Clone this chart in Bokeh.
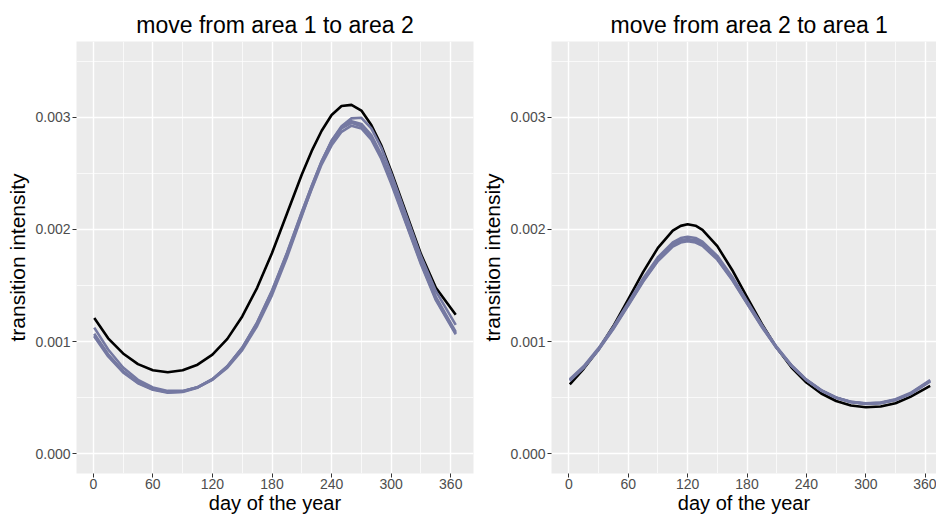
from bokeh.plotting import figure
from bokeh.layouts import row
from bokeh.models import FixedTicker, PrintfTickFormatter, Range1d
from bokeh.embed import file_html
from bokeh.resources import INLINE

# ---------------- data (values in units of 1e-3) ----------------
# panel 1: move from area 1 to area 2
days_12 = [1, 15, 30, 45, 60, 75, 90, 105, 120, 135, 150, 165, 180,
           195, 210, 220, 230, 240, 250, 260, 270, 280, 290, 300, 315, 330, 345, 365]
a12_black = [1.21, 1.03, 0.895, 0.80, 0.745, 0.727, 0.745, 0.795, 0.885, 1.025, 1.225, 1.48, 1.79,
             2.14, 2.49, 2.70, 2.88, 3.02, 3.10, 3.11, 3.06, 2.93, 2.75, 2.52, 2.15, 1.78, 1.48, 1.24]
a12_sim_a = [1.125, 0.93, 0.77, 0.66, 0.592, 0.561, 0.561, 0.593, 0.66, 0.768, 0.925, 1.14, 1.415,
             1.75, 2.12, 2.37, 2.60, 2.79, 2.92, 2.99, 2.995, 2.90, 2.73, 2.50, 2.13, 1.76, 1.45, 1.15]
a12_sim_b = [1.07, 0.887, 0.739, 0.638, 0.578, 0.552, 0.557, 0.594, 0.666, 0.78, 0.945, 1.168, 1.45,
             1.785, 2.15, 2.39, 2.61, 2.79, 2.91, 2.965, 2.94, 2.84, 2.67, 2.45, 2.08, 1.72, 1.40, 1.087]
a12_sim_c = [1.045, 0.868, 0.726, 0.629, 0.571, 0.546, 0.552, 0.59, 0.663, 0.777, 0.94, 1.16, 1.44,
             1.77, 2.13, 2.36, 2.58, 2.75, 2.87, 2.925, 2.90, 2.80, 2.63, 2.41, 2.05, 1.69, 1.37, 1.065]
a12_sim_d = [1.058, 0.878, 0.733, 0.634, 0.575, 0.549, 0.555, 0.593, 0.666, 0.781, 0.947, 1.172, 1.455,
             1.79, 2.155, 2.385, 2.605, 2.78, 2.90, 2.95, 2.92, 2.82, 2.65, 2.43, 2.06, 1.70, 1.38, 1.075]

# panel 2: move from area 2 to area 1
days_21 = [1, 15, 30, 45, 60, 75, 90, 105, 113, 120, 128, 135, 150, 165, 180,
           195, 210, 225, 240, 255, 270, 285, 300, 315, 330, 345, 365]
a21_black = [0.62, 0.758, 0.93, 1.139, 1.377, 1.62, 1.836, 1.989, 2.032, 2.046, 2.033, 1.997, 1.851, 1.639, 1.396,
             1.158, 0.945, 0.77, 0.636, 0.538, 0.471, 0.431, 0.415, 0.422, 0.451, 0.508, 0.605]
a21_sim_a = [0.665, 0.781, 0.942, 1.134, 1.347, 1.563, 1.752, 1.885, 1.923, 1.935, 1.924, 1.892, 1.765, 1.579, 1.363,
             1.148, 0.953, 0.79, 0.662, 0.568, 0.503, 0.465, 0.45, 0.457, 0.487, 0.542, 0.658]
a21_sim_b = [0.658, 0.774, 0.933, 1.123, 1.334, 1.548, 1.735, 1.866, 1.903, 1.915, 1.904, 1.873, 1.748, 1.564, 1.351,
             1.139, 0.947, 0.786, 0.659, 0.566, 0.501, 0.463, 0.4475, 0.454, 0.483, 0.537, 0.651]
a21_sim_c = [0.652, 0.767, 0.925, 1.113, 1.322, 1.533, 1.718, 1.847, 1.883, 1.895, 1.884, 1.854, 1.731, 1.549, 1.339,
             1.13, 0.941, 0.782, 0.656, 0.564, 0.499, 0.461, 0.445, 0.452, 0.48, 0.533, 0.645]
a21_sim_d = [0.655, 0.771, 0.93, 1.119, 1.329, 1.541, 1.727, 1.857, 1.893, 1.905, 1.894, 1.864, 1.74, 1.557, 1.345,
             1.134, 0.944, 0.784, 0.657, 0.565, 0.5, 0.462, 0.446, 0.453, 0.481, 0.535, 0.648]

titles = ["move from area 1 to area 2", "move from area 2 to area 1"]
x_title = "day of the year"
y_title = "transition intensity"
x_ticks = [0, 60, 120, 180, 240, 300, 360]
x_minor = [30, 90, 150, 210, 270, 330]
y_ticks = [0.0, 0.001, 0.002, 0.003]
y_minor = [0.0005, 0.0015, 0.0025, 0.0035]
UNIT = 1e-3

FONT = "Liberation Sans"
PURPLE = "#7579A2"


def make_panel(title, days, black, sims, width, min_left, min_right, x_start, x_end,
               title_align, title_offset):
    p = figure(width=width, height=516, output_backend="svg", toolbar_location=None,
               x_range=Range1d(x_start, x_end), y_range=Range1d(-0.000175, 0.003675),
               min_border_left=min_left, min_border_right=min_right,
               min_border_top=41, min_border_bottom=42)
    p.background_fill_color = "#EBEBEB"
    p.border_fill_color = "white"
    p.outline_line_color = None

    p.title.text = title
    p.title.text_font = FONT
    p.title.text_font_size = "23px"
    p.title.text_font_style = "normal"
    p.title.text_color = "black"
    p.title.align = title_align
    p.title.standoff = 7
    p.title.offset = title_offset

    p.xaxis.ticker = FixedTicker(ticks=x_ticks, minor_ticks=x_minor)
    p.yaxis.ticker = FixedTicker(ticks=y_ticks, minor_ticks=y_minor)
    p.yaxis.formatter = PrintfTickFormatter(format="%.3f")

    for ax in (p.xaxis[0], p.yaxis[0]):
        ax.axis_line_color = None
        ax.major_tick_line_color = "#333333"
        ax.major_tick_line_width = 1
        ax.major_tick_in = 0
        ax.major_tick_out = 4
        ax.minor_tick_line_color = None
        ax.major_label_text_color = "#4D4D4D"
        ax.major_label_text_font = FONT
        ax.major_label_text_font_size = "14px"
        ax.axis_label_text_font = FONT
        ax.axis_label_text_font_style = "normal"
        ax.axis_label_text_color = "black"
    p.xaxis.major_label_standoff = 1
    p.yaxis.major_label_standoff = 2
    p.xaxis.axis_label = x_title
    p.xaxis.axis_label_text_font_size = "20px"
    p.xaxis.axis_label_standoff = 0
    p.yaxis.axis_label = y_title
    p.yaxis.axis_label_text_font_size = "21px"
    p.yaxis.axis_label_standoff = 3

    for g in (p.xgrid[0], p.ygrid[0]):
        g.grid_line_color = "white"
        g.grid_line_width = 1.4
        g.minor_grid_line_color = "white"
        g.minor_grid_line_width = 0.7

    p.line(days, [v * UNIT for v in black], line_color="black", line_width=2.6, line_join="round")
    for s in sims:
        p.line(days, [v * UNIT for v in s], line_color=PURPLE, line_width=2.6, line_join="round")
    return p


p1 = make_panel(titles[0], days_12, a12_black, [a12_sim_a, a12_sim_b, a12_sim_c, a12_sim_d],
                478, 76, 5, -16.9, 382.9, "center", 0)
p2 = make_panel(titles[1], days_21, a21_black, [a21_sim_a, a21_sim_b, a21_sim_c, a21_sim_d],
                458, 73, 0, -17.5, 371.4, "left", 59)

layout = row(p1, p2)
open("out.html", "w").write(file_html(layout, INLINE))
